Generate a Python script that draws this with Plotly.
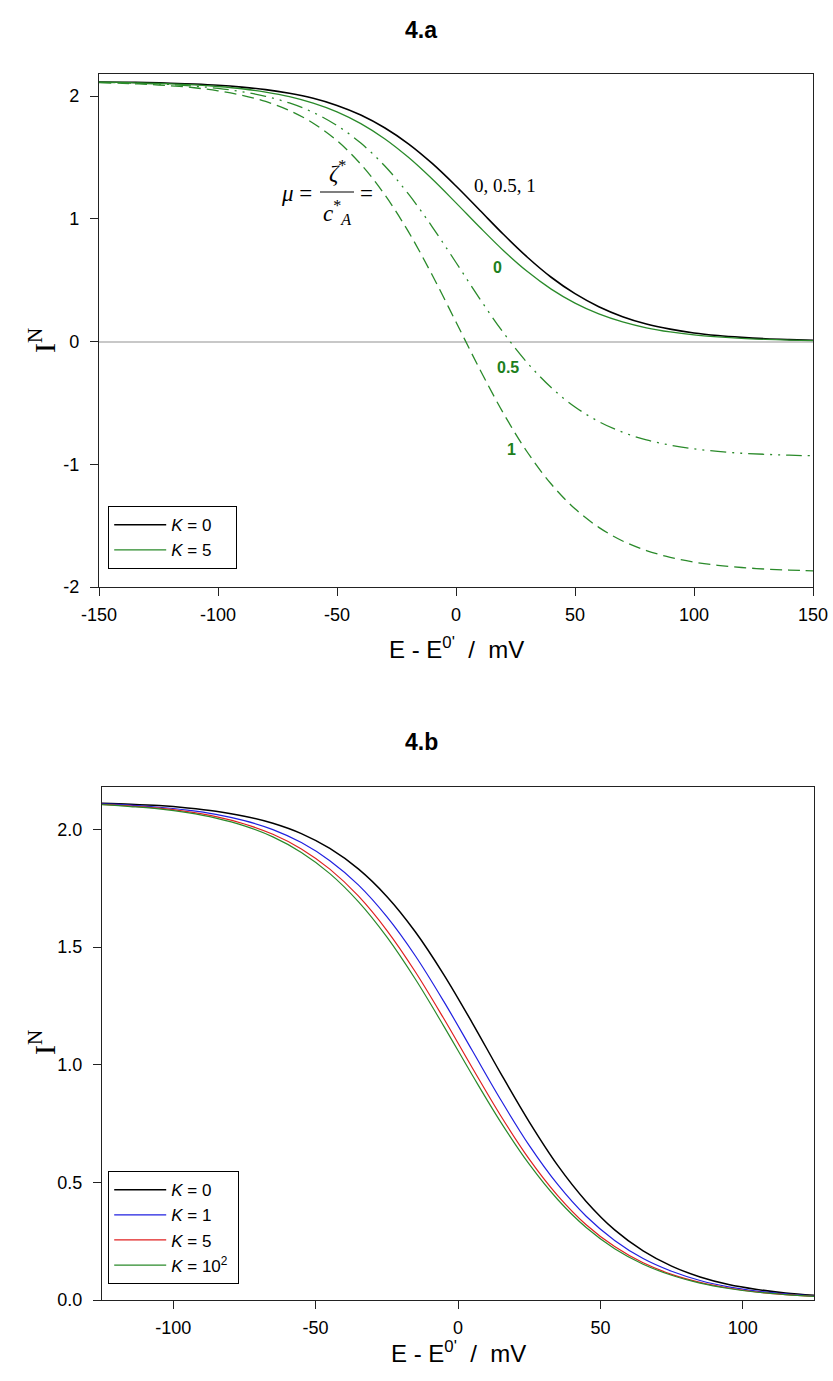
import plotly.graph_objects as go

W, H = 833, 1381

# ---------------- data: Figure 4.a ----------------
E_a = [-150, -140, -130, -120, -110, -100, -90, -80, -70, -60, -50, -40, -30, -20, -10,
       0, 10, 20, 30, 40, 50, 60, 70, 80, 90, 100, 110, 120, 130, 140, 150]
I_a_K0 = [2.115, 2.113, 2.110, 2.105, 2.098, 2.088, 2.073, 2.053, 2.023, 1.982, 1.924,
          1.846, 1.742, 1.611, 1.451, 1.267, 1.070, 0.872, 0.687, 0.524, 0.390, 0.284,
          0.203, 0.143, 0.101, 0.070, 0.049, 0.034, 0.023, 0.016, 0.011]
I_a_K5_mu0 = [2.114, 2.111, 2.106, 2.100, 2.091, 2.078, 2.060, 2.033, 1.996, 1.943, 1.872,
              1.776, 1.653, 1.501, 1.324, 1.130, 0.931, 0.740, 0.570, 0.427, 0.313, 0.225,
              0.160, 0.112, 0.078, 0.054, 0.038, 0.026, 0.018, 0.012, 0.008]
I_a_K5_mu05 = [2.112, 2.108, 2.102, 2.094, 2.081, 2.063, 2.036, 1.998, 1.944, 1.867, 1.760,
               1.617, 1.432, 1.203, 0.935, 0.644, 0.348, 0.070, -0.174, -0.375, -0.533,
               -0.652, -0.739, -0.801, -0.844, -0.874, -0.895, -0.910, -0.919, -0.926, -0.931]
I_a_K5_mu1 = [2.109, 2.104, 2.096, 2.084, 2.068, 2.043, 2.007, 1.956, 1.883, 1.779, 1.637,
              1.445, 1.198, 0.895, 0.542, 0.159, -0.226, -0.587, -0.902, -1.161, -1.363,
              -1.514, -1.625, -1.703, -1.758, -1.797, -1.823, -1.841, -1.854, -1.862, -1.868]

# ---------------- data: Figure 4.b ----------------
E_b = [-125, -115, -105, -95, -85, -75, -65, -55, -45, -35, -25, -15, -5,
       5, 15, 25, 35, 45, 55, 65, 75, 85, 95, 105, 115, 125]
I_b_K0 = [2.111, 2.107, 2.101, 2.091, 2.077, 2.056, 2.026, 1.982, 1.919, 1.832, 1.715, 1.565,
          1.383, 1.178, 0.963, 0.757, 0.572, 0.419, 0.298, 0.209, 0.144, 0.098, 0.066, 0.045,
          0.030, 0.020]
I_b_K1 = [2.108, 2.103, 2.094, 2.082, 2.064, 2.037, 1.999, 1.944, 1.867, 1.764, 1.629, 1.463,
          1.269, 1.060, 0.851, 0.657, 0.491, 0.356, 0.253, 0.176, 0.122, 0.083, 0.056, 0.038,
          0.026, 0.017]
I_b_K5 = [2.106, 2.099, 2.090, 2.075, 2.054, 2.023, 1.979, 1.917, 1.831, 1.717, 1.571, 1.395,
          1.196, 0.987, 0.783, 0.599, 0.444, 0.320, 0.227, 0.158, 0.109, 0.075, 0.051, 0.034,
          0.023, 0.016]
I_b_K100 = [2.105, 2.097, 2.087, 2.071, 2.048, 2.015, 1.968, 1.902, 1.812, 1.693, 1.543, 1.364,
            1.164, 0.956, 0.756, 0.577, 0.427, 0.308, 0.218, 0.152, 0.105, 0.072, 0.049, 0.033,
            0.023, 0.015]

xticks_a = [-150, -100, -50, 0, 50, 100, 150]
xticklabels_a = ["-150", "-100", "-50", "0", "50", "100", "150"]
yticks_a = [-2, -1, 0, 1, 2]
yticklabels_a = ["-2", "-1", "0", "1", "2"]
xticks_b = [-100, -50, 0, 50, 100]
xticklabels_b = ["-100", "-50", "0", "50", "100"]
yticks_b = [0.0, 0.5, 1.0, 1.5, 2.0]
yticklabels_b = ["0.0", "0.5", "1.0", "1.5", "2.0"]

NB = "\u00a0"
legend_a = ["<i>K</i> = 0" + NB * 4, "<i>K</i> = 5" + NB * 4]
legend_b = ["<i>K</i> = 0", "<i>K</i> = 1", "<i>K</i> = 5", "<i>K</i> = 10<sup>2</sup>" + NB]
mu_labels = ["0", "0.5", "1"]

GREEN = "#2a8a2a"
SANS = "Liberation Sans, Arial, sans-serif"
NARROW = "Liberation Sans Narrow, Arial Narrow, Liberation Sans, sans-serif"
SERIF = "Liberation Serif, Times New Roman, serif"


def px(x):
    return x / W


def py(y):
    return 1 - y / H


fig = go.Figure()

# ---- plot a traces
fig.add_trace(go.Scatter(x=E_a, y=I_a_K0, mode="lines", name=legend_a[0], legendgroup="a0",
                         line=dict(color="black", width=1.6, shape="spline"),
                         xaxis="x", yaxis="y", legend="legend"))
fig.add_trace(go.Scatter(x=E_a, y=I_a_K5_mu0, mode="lines", name=legend_a[1], legendgroup="a1",
                         line=dict(color=GREEN, width=1.3, shape="spline"),
                         xaxis="x", yaxis="y", legend="legend"))
fig.add_trace(go.Scatter(x=E_a, y=I_a_K5_mu05, mode="lines", showlegend=False,
                         line=dict(color=GREEN, width=1.3, shape="spline",
                                   dash="16px,6px,2px,6px,2px,6px"),
                         xaxis="x", yaxis="y"))
fig.add_trace(go.Scatter(x=E_a, y=I_a_K5_mu1, mode="lines", showlegend=False,
                         line=dict(color=GREEN, width=1.3, shape="spline", dash="12px,6px"),
                         xaxis="x", yaxis="y"))

# ---- plot b traces
for i, (vals, name, col) in enumerate([(I_b_K0, legend_b[0], "black"),
                                        (I_b_K1, legend_b[1], "#2020e0"),
                                        (I_b_K5, legend_b[2], "#e02020"),
                                        (I_b_K100, legend_b[3], GREEN)]):
    fig.add_trace(go.Scatter(x=E_b, y=vals, mode="lines", name=name, legendgroup="b%d" % i,
                             line=dict(color=col, width=1.5 if col == "black" else 1.2,
                                       shape="spline"),
                             xaxis="x2", yaxis="y2", legend="legend2"))

axis_common = dict(showline=True, linecolor="#222", linewidth=1.3, mirror=True,
                   ticks="outside", ticklen=8, tickwidth=1.2, tickcolor="#222",
                   showgrid=False, automargin=False,
                   tickfont=dict(family=SANS, size=18, color="black"))

legend_common = dict(xanchor="left", yanchor="top", bgcolor="white",
                     bordercolor="black", borderwidth=1.2,
                     font=dict(family=SANS, size=17, color="black"),
                     itemwidth=52, tracegroupgap=0)

fig.update_layout(
    template="none",
    width=W, height=H,
    margin=dict(l=0, r=0, t=0, b=0, pad=0),
    paper_bgcolor="white", plot_bgcolor="white",
    showlegend=True,
    xaxis=dict(domain=[px(99), px(813)], range=[-150, 150], tickmode="array",
               tickvals=xticks_a, ticktext=xticklabels_a, ticklabelstandoff=3,
               zeroline=False, anchor="y", **axis_common),
    yaxis=dict(domain=[py(587), py(74)], range=[-2, 2.18], tickmode="array",
               tickvals=yticks_a, ticktext=yticklabels_a, ticklabelstandoff=7,
               zeroline=True, zerolinecolor="#c8c8c8", zerolinewidth=1.6,
               anchor="x", **axis_common),
    xaxis2=dict(domain=[px(102), px(814)], range=[-125, 125], tickmode="array",
                tickvals=xticks_b, ticktext=xticklabels_b, ticklabelstandoff=3,
                zeroline=False, anchor="y2", **axis_common),
    yaxis2=dict(domain=[py(1300), py(787)], range=[0, 2.18], tickmode="array",
                tickvals=yticks_b, ticktext=yticklabels_b, ticklabelstandoff=7,
                zeroline=False, anchor="x2", **axis_common),
    legend=dict(x=px(108), y=py(506), **legend_common),
    legend2=dict(x=px(108), y=py(1171), **legend_common),
)

anns = []


def ann(text, x, y, size, family=SANS, color="black", **kw):
    anns.append(dict(text=text, x=px(x), y=py(y), xref="paper", yref="paper",
                     showarrow=False, xanchor="center", yanchor="middle",
                     font=dict(family=family, size=size, color=color), **kw))


ann("<b>4.a</b>", 421, 30, 23, family=NARROW)
ann("<b>4.b</b>", 421, 742, 23, family=NARROW)
ann("E - E<sup>0'</sup>" + NB * 2 + "/" + NB * 2 + "mV", 456, 648, 24)
ann("E - E<sup>0'</sup>" + NB * 2 + "/" + NB * 2 + "mV", 458, 1352, 24)
ann("I<sup>N</sup>", 42, 341, 30, family=SERIF, textangle=-90)
ann("I<sup>N</sup>", 42, 1043, 30, family=SERIF, textangle=-90)

# mu expression
ann("<i>μ</i> =", 296, 194, 23, family=SERIF)
ann("<i>ζ</i><sup>*</sup>", 337, 172, 23, family=SERIF)
ann("<i>c</i><sup>*</sup><sub><i>A</i></sub>", 337, 212, 23, family=SERIF)
ann("=", 366, 193, 23, family=SERIF)
ann("0, 0.5, 1", 505, 186, 19, family=SERIF)
ann("<b>" + mu_labels[0] + "</b>", 497, 267, 16, color="#1d7f1d")
ann("<b>" + mu_labels[1] + "</b>", 508, 368, 16, color="#1d7f1d")
ann("<b>" + mu_labels[2] + "</b>", 511, 449, 16, color="#1d7f1d")

fig.update_layout(annotations=anns)
fig.add_shape(type="line", xref="paper", yref="paper", x0=px(320), x1=px(354),
              y0=py(192), y1=py(192), line=dict(color="black", width=1.2))

# remove the default 8px body margin so the figure sits at the page origin
post = ("document.body.style.margin='0';document.body.style.padding='0';"
        "document.body.style.overflow='hidden';"
        "document.documentElement.style.overflow='hidden';")
fig.write_html("out.html", post_script=post, config={"displayModeBar": False})
